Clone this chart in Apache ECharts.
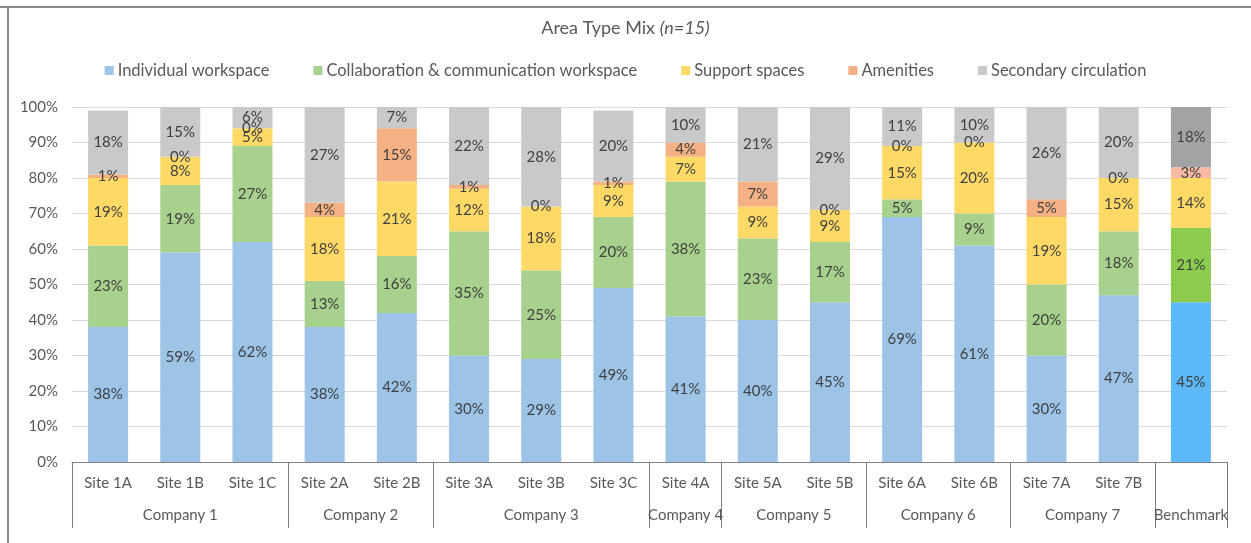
<!DOCTYPE html>
<html>
<head>
<meta charset="utf-8">
<script src="https://cdn.jsdelivr.net/npm/echarts@6/dist/echarts.min.js"></script>
<style>
  html, body { margin: 0; padding: 0; background: #fff; }
  #frame { position: absolute; left: 0; top: 0; width: 1251px; height: 543px; overflow: hidden; }
  #frame:before { content: ""; position: absolute; left: 0; top: 6px; width: 1251px; height: 2px; background: #8a8a8a; z-index: 2; }
  #frame:after { content: ""; position: absolute; left: 7px; top: 6px; width: 2px; height: 537px; background: #8a8a8a; z-index: 2; }
  #chart { position: absolute; left: 0; top: 0; width: 1251px; height: 543px; }
</style>
</head>
<body>
<div id="frame"><div id="chart"></div></div>
<script>
// Sites on the x axis, and the company each site group belongs to
const sites = ['Site 1A', 'Site 1B', 'Site 1C', 'Site 2A', 'Site 2B', 'Site 3A', 'Site 3B', 'Site 3C',
               'Site 4A', 'Site 5A', 'Site 5B', 'Site 6A', 'Site 6B', 'Site 7A', 'Site 7B', ''];
const companies = ['Company 1', 'Company 2', 'Company 3', 'Company 4', 'Company 5', 'Company 6', 'Company 7', 'Benchmark'];
const companySizes = [3, 2, 3, 1, 2, 2, 2, 1];

// Share of floor area per type (%)
const individual    = [38, 59, 62, 38, 42, 30, 29, 49, 41, 40, 45, 69, 61, 30, 47, 45];
const collaboration = [23, 19, 27, 13, 16, 35, 25, 20, 38, 23, 17, 5, 9, 20, 18, 21];
const support       = [19, 8, 5, 18, 21, 12, 18, 9, 7, 9, 9, 15, 20, 19, 15, 14];
const amenities     = [1, 0, 0, 4, 15, 1, 0, 1, 4, 7, 0, 0, 0, 5, 0, 3];
const circulation   = [18, 15, 6, 27, 7, 22, 28, 20, 10, 21, 29, 11, 10, 26, 20, 18];

const yTicks = [0, 10, 20, 30, 40, 50, 60, 70, 80, 90, 100];

const seriesDefs = [
  { name: 'Individual workspace', data: individual, color: '#9dc3e6', bench: '#5cb8f6' },
  { name: 'Collaboration & communication workspace', data: collaboration, color: '#a9d18e', bench: '#8bcb4e' },
  { name: 'Support spaces', data: support, color: '#ffd966', bench: '#ffd966' },
  { name: 'Amenities', data: amenities, color: '#f4b183', bench: '#f8b8a2' },
  { name: 'Secondary circulation', data: circulation, color: '#c9c9c9', bench: '#a3a3a3' }
];

// Group boundaries and group centres on a continuous 0..16 scale
const bounds = [0];
const centres = [];
companySizes.forEach(function (n) {
  const start = bounds[bounds.length - 1];
  centres.push(start + n / 2);
  bounds.push(start + n);
});

const FONT = 'Lato, "Open Sans", sans-serif';
const TEXT = '#595959';
const chart = echarts.init(document.getElementById('chart'), null, { renderer: 'canvas' });

chart.setOption({
  animation: false,
  backgroundColor: '#ffffff',
  textStyle: { fontFamily: FONT },
  title: {
    text: 'Area Type Mix {it|(n=15)}',
    left: 'center',
    top: 14,
    textStyle: {
      fontFamily: FONT, fontSize: 18, fontWeight: 'normal', color: TEXT,
      rich: { it: { fontFamily: FONT, fontSize: 18, fontStyle: 'italic', color: TEXT } }
    }
  },
  legend: {
    top: 57,
    left: 'center',
    itemWidth: 9,
    itemHeight: 9,
    itemGap: 44,
    icon: 'rect',
    textStyle: { fontFamily: FONT, fontSize: 16.5, color: TEXT, padding: [0, 0, 0, -1] },
    data: seriesDefs.map(function (s) { return s.name; })
  },
  grid: { left: 72, right: 24, top: 107, bottom: 81 },
  xAxis: [
    {
      type: 'category',
      data: sites,
      axisLine: { lineStyle: { color: '#7f7f7f', width: 1 } },
      axisTick: { show: false },
      axisLabel: { color: TEXT, fontFamily: FONT, fontSize: 15, margin: 14, interval: 0 }
    },
    {
      type: 'value',
      min: 0,
      max: sites.length,
      position: 'bottom',
      axisLine: { show: false },
      splitLine: { show: false },
      axisTick: {
        show: true,
        customValues: bounds,
        length: 66,
        lineStyle: { color: '#7f7f7f', width: 1 }
      },
      axisLabel: {
        customValues: centres,
        margin: 46,
        color: TEXT,
        fontFamily: FONT,
        fontSize: 15,
        formatter: function (v) {
          const i = centres.indexOf(v);
          return i >= 0 ? companies[i] : '';
        }
      }
    }
  ],
  yAxis: {
    type: 'value',
    min: yTicks[0],
    max: yTicks[yTicks.length - 1],
    interval: 10,
    axisLine: { show: false },
    axisTick: { show: false },
    splitLine: { lineStyle: { color: '#d9d9d9', width: 1 } },
    axisLabel: { formatter: '{value}%', color: TEXT, fontFamily: FONT, fontSize: 15, margin: 14 }
  },
  series: seriesDefs.map(function (s) {
    return {
      name: s.name,
      type: 'bar',
      stack: 'mix',
      xAxisIndex: 0,
      barWidth: 40,
      itemStyle: { color: s.color },
      label: {
        show: true,
        position: 'inside',
        formatter: '{c}%',
        color: '#404040',
        fontFamily: FONT,
        fontSize: 15
      },
      data: s.data.map(function (v, i) {
        return i === s.data.length - 1 ? { value: v, itemStyle: { color: s.bench } } : v;
      })
    };
  })
});
</script>
</body>
</html>
